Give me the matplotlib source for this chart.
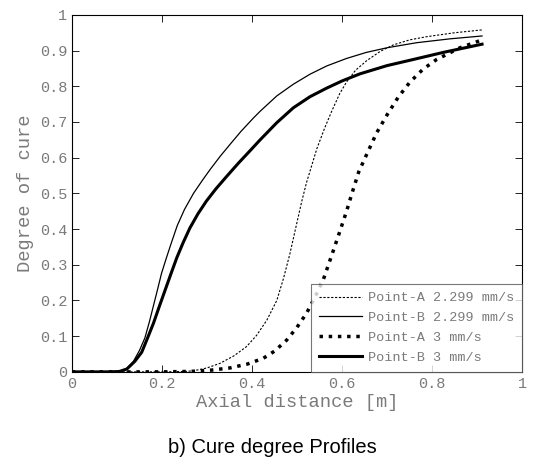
import matplotlib.pyplot as plt

# 读图估计的数据
xa1 = [0, 0.2, 0.25, 0.27, 0.30, 0.329, 0.36, 0.388, 0.41, 0.433, 0.455, 0.47, 0.484, 0.496, 0.51, 0.521,
       0.544, 0.562, 0.577, 0.595, 0.61, 0.63, 0.655, 0.685, 0.714, 0.75, 0.788, 0.85, 0.911]
ya1 = [0, 0, 0.001, 0.003, 0.011, 0.024, 0.045, 0.071, 0.102, 0.145, 0.2, 0.262, 0.33, 0.397, 0.475, 0.53,
       0.625, 0.685, 0.73, 0.78, 0.812, 0.845, 0.872, 0.898, 0.916, 0.93, 0.939, 0.95, 0.958]

xb1 = [0, 0.08, 0.10, 0.11, 0.122, 0.136, 0.15, 0.162, 0.172, 0.181, 0.19, 0.199, 0.21, 0.221, 0.234, 0.25,
       0.27, 0.29, 0.307, 0.33, 0.351, 0.375, 0.403, 0.418, 0.455, 0.492, 0.529, 0.566, 0.61, 0.654, 0.70,
       0.765, 0.84, 0.911]
yb1 = [0, 0, 0, 0.002, 0.01, 0.028, 0.06, 0.095, 0.14, 0.185, 0.23, 0.276, 0.32, 0.362, 0.41, 0.455,
       0.5, 0.537, 0.567, 0.605, 0.637, 0.673, 0.711, 0.73, 0.773, 0.806, 0.834, 0.857, 0.878, 0.895, 0.908,
       0.922, 0.933, 0.941]

xa2 = [0, 0.2, 0.25, 0.277, 0.31, 0.351, 0.39, 0.425, 0.45, 0.477, 0.5, 0.521, 0.54, 0.558, 0.578, 0.596,
       0.61, 0.622, 0.637, 0.655, 0.677, 0.70, 0.725, 0.751, 0.78, 0.81, 0.862, 0.911]
ya2 = [0, 0, 0.001, 0.002, 0.005, 0.011, 0.022, 0.038, 0.058, 0.089, 0.125, 0.164, 0.21, 0.257, 0.33, 0.397,
       0.45, 0.5, 0.56, 0.61, 0.67, 0.72, 0.77, 0.812, 0.848, 0.875, 0.908, 0.93]

xb2 = [0, 0.08, 0.105, 0.122, 0.14, 0.155, 0.168, 0.181, 0.194, 0.207, 0.22, 0.233, 0.247, 0.262, 0.28,
       0.299, 0.32, 0.344, 0.37, 0.396, 0.418, 0.455, 0.492, 0.529, 0.566, 0.60, 0.64, 0.70, 0.751, 0.825, 0.911]
yb2 = [0, 0, 0.001, 0.008, 0.03, 0.055, 0.095, 0.136, 0.183, 0.229, 0.275, 0.32, 0.362, 0.403, 0.443,
       0.479, 0.513, 0.548, 0.585, 0.62, 0.65, 0.698, 0.74, 0.771, 0.795, 0.815, 0.835, 0.858, 0.873, 0.895, 0.918]

mono = 'Liberation Mono'
grey = '#7a7a7a'

fig = plt.figure(figsize=(5.45, 4.66), dpi=100)
ax = fig.add_axes([0.132, 0.202, 0.826, 0.766])

ax.plot(xa1, ya1, color='k', lw=0.8, dashes=(2, 1.5), label='Point-A 2.299 mm/s')
ax.plot(xb1, yb1, color='k', lw=0.9, label='Point-B 2.299 mm/s')
ax.plot(xa2, ya2, color='k', lw=2.5, linestyle=':', label='Point-A 3 mm/s')
ax.plot(xb2, yb2, color='k', lw=2.2, label='Point-B 3 mm/s')

ax.set_xlim(0, 1)
ax.set_ylim(0, 1)
ax.set_xticks([0, 0.2, 0.4, 0.6, 0.8, 1])
ax.set_xticklabels(['0', '0.2', '0.4', '0.6', '0.8', '1'])
ax.set_yticks([i / 10 for i in range(11)])
ax.set_yticklabels(['0'] + ['0.%d' % i for i in range(1, 10)] + ['1'])
ax.tick_params(direction='in', top=True, right=True, length=5, width=0.6,
               labelsize=11, labelcolor=grey)
for lab in ax.get_xticklabels() + ax.get_yticklabels():
    lab.set_family(mono)
for s in ax.spines.values():
    s.set_linewidth(0.8)

ax.set_xlabel('Axial distance [m]', family=mono, fontsize=13.5, color=grey, labelpad=2)
ax.set_ylabel('Degree of cure', family=mono, fontsize=13.5, color=grey, labelpad=4)

leg = ax.legend(loc='lower right', prop={'family': mono, 'size': 9.7}, frameon=True,
                fancybox=False, borderaxespad=0, handlelength=3.2, labelspacing=0.55,
                borderpad=0.6, handletextpad=0.4)
leg.get_frame().set_edgecolor('#555555')
leg.get_frame().set_linewidth(0.8)
for t in leg.get_texts():
    t.set_color(grey)

fig.text(0.5, 0.04, 'b) Cure degree Profiles', ha='center', va='center',
         family='Liberation Sans', fontsize=14.5)

fig.savefig('out.png', dpi=100)
